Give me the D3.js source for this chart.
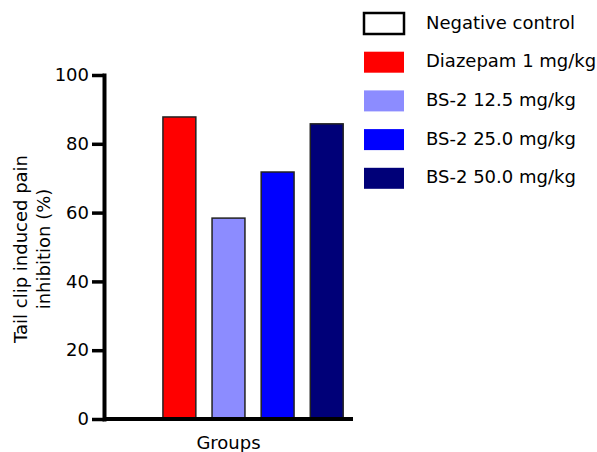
<!DOCTYPE html>
<html>
<head>
<meta charset="utf-8">
<script src="https://cdn.jsdelivr.net/npm/d3@7"></script>
<style>
  body { margin: 0; background: #fff; }
  text { font-family: "DejaVu Sans", sans-serif; fill: #000; }
</style>
</head>
<body>
<div id="chart"></div>
<script>
// data
const groups = ["Negative control", "Diazepam 1 mg/kg", "BS-2 12.5 mg/kg", "BS-2 25.0 mg/kg", "BS-2 50.0 mg/kg"];
const inhibition = [0, 87.8, 58.4, 71.8, 85.8];
const colors = ["#ffffff", "#ff0000", "#8c8cff", "#0000ff", "#000078"];
const yTicks = [0, 20, 40, 60, 80, 100];

const width = 597, height = 452;
const margins = { top: 75, bottom: 33, left: 104, right: 244 };

const svg = d3.select("#chart")
  .append("svg")
  .attr("width", width)
  .attr("height", height);

const x = d3.scaleBand()
  .domain(groups)
  .range([margins.left, width - margins.right])
  .paddingInner(0.33)
  .paddingOuter(0.2);

const y = d3.scaleLinear()
  .domain([0, 100])
  .range([height - margins.bottom, margins.top]);

// bars
svg.selectAll("rect.bar")
  .data(groups)
  .join("rect")
  .attr("class", "bar")
  .attr("x", d => x(d))
  .attr("y", (d, i) => y(inhibition[i]))
  .attr("width", x.bandwidth())
  .attr("height", (d, i) => y(0) - y(inhibition[i]))
  .attr("fill", (d, i) => colors[i])
  .attr("stroke", "#222")
  .attr("stroke-width", 1.5);

// y axis
const yAxis = svg.append("g")
  .attr("transform", `translate(${margins.left},0)`)
  .call(d3.axisLeft(y).tickValues(yTicks).tickSizeInner(12).tickSizeOuter(0).tickPadding(3));
yAxis.select(".domain").attr("stroke-width", 4).attr("stroke-linecap", "square");
yAxis.selectAll(".tick line").attr("stroke-width", 3.5);
yAxis.selectAll(".tick text").style("font-size", "18px").attr("font-family", "DejaVu Sans");

// x axis line
svg.append("line")
  .attr("x1", margins.left)
  .attr("x2", width - margins.right)
  .attr("y1", y(0))
  .attr("y2", y(0))
  .attr("stroke", "#000")
  .attr("stroke-width", 4);

// axis titles
svg.append("text")
  .attr("x", x(groups[2]) + x.bandwidth() / 2)
  .attr("y", 449)
  .attr("text-anchor", "middle")
  .style("font-size", "18px")
  .text("Groups");

const yMid = (y(0) + y(100)) / 2 + 2;
svg.append("text")
  .attr("transform", `translate(27,${yMid}) rotate(-90)`)
  .attr("text-anchor", "middle")
  .style("font-size", "18px")
  .text("Tail clip induced pain");
svg.append("text")
  .attr("transform", `translate(50,${yMid}) rotate(-90)`)
  .attr("text-anchor", "middle")
  .style("font-size", "18px")
  .text("inhibition (%)");

// legend
const legend = svg.append("g").attr("transform", "translate(364,13)");
const item = legend.selectAll("g")
  .data(groups)
  .join("g")
  .attr("transform", (d, i) => `translate(0,${i * 38.7})`);
item.append("rect")
  .attr("width", 40)
  .attr("height", 21)
  .attr("fill", (d, i) => colors[i])
  .attr("stroke", (d, i) => i === 0 ? "#000" : "none")
  .attr("stroke-width", 2.5);
item.append("text")
  .attr("x", 62)
  .attr("y", 15.5)
  .style("font-size", "18px")
  .text(d => d);
</script>
</body>
</html>
